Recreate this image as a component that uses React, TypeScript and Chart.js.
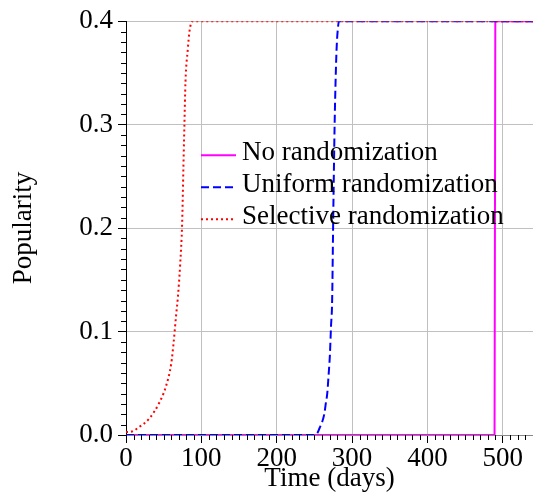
import { useEffect, useRef } from "react";
import { Chart, registerables } from "chart.js";

Chart.register(...registerables);

// ---- data ----
const seriesNames = ["No randomization", "Uniform randomization", "Selective randomization"];

const noneDays = [0, 489, 490, 540];
const noneValues = [0, 0, 0.4, 0.4];

const uniformDays = [0, 250, 254, 257, 260, 263, 265, 267, 269, 270.5, 272, 273.5, 275, 276.8, 278, 279.4, 281, 282.6, 540];
const uniformValues = [0, 0, 0.002, 0.007, 0.012, 0.02, 0.03, 0.04, 0.06, 0.077, 0.105, 0.13, 0.213, 0.3, 0.34, 0.373, 0.392, 0.4, 0.4];

const selectiveDays = [0, 5, 18, 31, 44, 53, 60, 63, 66.5, 68.7, 71.8, 74.5, 76.2, 77.5, 78.9, 82, 84, 86, 88.4, 540];
const selectiveValues = [0.003, 0.003, 0.008, 0.016, 0.031, 0.047, 0.069, 0.088, 0.116, 0.132, 0.164, 0.205, 0.26, 0.3, 0.341, 0.373, 0.389, 0.397, 0.4, 0.4];

const xTickValues = [0, 100, 200, 300, 400, 500];
const yTickValues = [0, 0.1, 0.2, 0.3, 0.4];
const xMinorStep = 10;
const yMinorStep = 0.01;

const FONT = "'Liberation Serif', 'Times New Roman', serif";
const FONT_SIZE = 27;

const toXY = (xs: number[], ys: number[]) => xs.map((x, i) => ({ x, y: ys[i] }));

const minorTicksPlugin = {
  id: "minorTicks",
  afterDraw(chart: any) {
    const { ctx, chartArea, scales } = chart;
    ctx.save();
    ctx.fillStyle = "#000";
    const xs = scales.x;
    const bottom = Math.round(chartArea.bottom);
    for (let i = 0; i * xMinorStep <= xs.max + 1e-9; i++) {
      if (i % 10 === 0) continue;
      const px = Math.round(xs.getPixelForValue(i * xMinorStep));
      ctx.fillRect(px, bottom, 1, 5);
    }
    const ys = scales.y;
    const left = Math.round(chartArea.left);
    for (let i = 0; i * yMinorStep <= ys.max + 1e-9; i++) {
      if (i % 10 === 0) continue;
      const py = Math.round(ys.getPixelForValue(i * yMinorStep));
      ctx.fillRect(left - 5, py, 5, 1);
    }
    ctx.restore();
  },
};

const legendPlugin = {
  id: "insideLegend",
  afterDatasetsDraw(chart: any) {
    const { ctx, chartArea } = chart;
    const datasets = chart.data.datasets;
    ctx.save();
    ctx.font = `${FONT_SIZE}px ${FONT}`;
    ctx.textBaseline = "middle";
    ctx.fillStyle = "#000";
    const x0 = chartArea.left + 75;
    const x1 = chartArea.left + 110;
    const tx = chartArea.left + 116;
    const rowY = [chartArea.top + 134, chartArea.top + 166, chartArea.top + 198];
    datasets.forEach((ds: any, i: number) => {
      const y = rowY[i];
      ctx.beginPath();
      ctx.strokeStyle = ds.borderColor;
      ctx.lineWidth = ds.borderWidth;
      ctx.setLineDash(ds.borderDash || []);
      ctx.moveTo(x0, y);
      ctx.lineTo(x1, y);
      ctx.stroke();
      ctx.setLineDash([]);
      ctx.fillText(ds.label, tx, y - 2);
    });
    ctx.restore();
  },
};

export default function App() {
  const ref = useRef<HTMLCanvasElement | null>(null);

  useEffect(() => {
    const canvas = ref.current;
    if (!canvas) return;
    const font = { family: FONT, size: FONT_SIZE };
    const chart = new Chart(canvas, {
      type: "line",
      data: {
        datasets: [
          {
            label: seriesNames[0],
            data: toXY(noneDays, noneValues),
            borderColor: "#ff00ff",
            borderWidth: 2,
            pointRadius: 0,
            order: 3,
          },
          {
            label: seriesNames[1],
            data: toXY(uniformDays, uniformValues),
            borderColor: "#0000ff",
            borderWidth: 2,
            borderDash: [8, 4],
            pointRadius: 0,
            cubicInterpolationMode: "monotone",
            order: 2,
          },
          {
            label: seriesNames[2],
            data: toXY(selectiveDays, selectiveValues),
            borderColor: "#ff0000",
            borderWidth: 2,
            borderDash: [2, 3],
            pointRadius: 0,
            cubicInterpolationMode: "monotone",
            order: 1,
          },
        ],
      } as any,
      options: {
        animation: false,
        responsive: false,
        maintainAspectRatio: false,
        devicePixelRatio: 1,
        layout: { padding: { top: 20, right: 0, left: 0, bottom: 0 } },
        plugins: { legend: { display: false }, tooltip: { enabled: false } },
        scales: {
          x: {
            type: "linear",
            min: 0,
            max: 540,
            afterBuildTicks: (s: any) => {
              s.ticks = xTickValues.map((v) => ({ value: v }));
            },
            afterFit: (s: any) => {
              s.height = 63;
            },
            grid: { color: "#c0c0c0", tickColor: "#000", tickLength: 8, lineWidth: 1 },
            border: { color: "#888", width: 1 },
            ticks: { font, color: "#000", padding: 0, maxRotation: 0, autoSkip: false, callback: (v: any) => String(v) },
            title: { display: true, text: "Time (days)", font, color: "#000", padding: { top: 0, bottom: 3 } },
          },
          y: {
            type: "linear",
            min: 0,
            max: 0.4,
            afterBuildTicks: (s: any) => {
              s.ticks = yTickValues.map((v) => ({ value: v }));
            },
            afterFit: (s: any) => {
              s.width = 126;
            },
            grid: { color: "#c0c0c0", tickColor: "#000", tickLength: 8, lineWidth: 1 },
            border: { color: "#000", width: 1 },
            ticks: { font, color: "#000", padding: 5, autoSkip: false, callback: (v: any) => Number(v).toFixed(1) },
            title: { display: true, text: "Popularity", font, color: "#000", padding: { top: 8, bottom: 0 } },
          },
        },
      } as any,
      plugins: [minorTicksPlugin, legendPlugin],
    });
    return () => chart.destroy();
  }, []);

  return (
    <div style={{ position: "absolute", left: 0, top: 0, width: 533, height: 498, background: "#fff" }}>
      <canvas ref={ref} width={533} height={498} style={{ width: 533, height: 498, display: "block" }} />
    </div>
  );
}
